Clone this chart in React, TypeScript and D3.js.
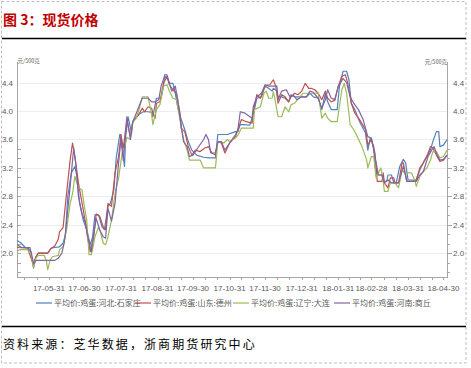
import React, { useEffect, useRef } from 'react'
import * as d3 from 'd3'

// 鸡蛋现货平均价 (元/500克), dates as yy-mm-dd
const seriesNames = ['平均价:鸡蛋:河北:石家庄', '平均价:鸡蛋:山东:德州', '平均价:鸡蛋:辽宁:大连', '平均价:鸡蛋:河南:商丘']
const seriesColors = ['#4F81BD', '#C0504D', '#9BBB59', '#8064A2']

const hebei: [string, number][] = [
  ['17-05-04', 2.18], ['17-05-07', 2.15], ['17-05-11', 2.08], ['17-05-15', 2.08], ['17-05-18', 1.79], ['17-05-20', 1.95],
  ['17-05-22', 2.0], ['17-05-30', 2.0], ['17-06-02', 2.07], ['17-06-05', 2.08], ['17-06-09', 2.09], ['17-06-12', 2.14],
  ['17-06-14', 2.26], ['17-06-16', 2.8], ['17-06-19', 3.13], ['17-06-22', 3.22], ['17-06-24', 3.06], ['17-06-26', 2.7],
  ['17-06-29', 2.47], ['17-07-02', 2.33], ['17-07-05', 2.12], ['17-07-07', 2.23], ['17-07-09', 2.54], ['17-07-12', 2.54],
  ['17-07-15', 2.37], ['17-07-17', 2.33], ['17-07-20', 2.66], ['17-07-22', 2.7], ['17-07-25', 2.89], ['17-07-27', 3.34],
  ['17-07-30', 3.67], ['17-07-31', 3.67], ['17-08-03', 3.22], ['17-08-04', 3.64], ['17-08-06', 3.92], ['17-08-09', 3.69],
  ['17-08-10', 3.85], ['17-08-15', 3.95], ['17-08-19', 3.99], ['17-08-23', 3.99], ['17-08-26', 3.98], ['17-08-27', 3.92],
  ['17-08-30', 4.18], ['17-09-03', 4.18], ['17-09-05', 4.35], ['17-09-06', 4.51], ['17-09-08', 4.51], ['17-09-10', 4.39],
  ['17-09-13', 4.39], ['17-09-15', 4.25], ['17-09-17', 4.06], ['17-09-20', 3.88], ['17-09-23', 3.74], ['17-09-26', 3.57],
  ['17-09-29', 3.45], ['17-10-03', 3.38], ['17-10-09', 3.35], ['17-10-14', 3.34], ['17-10-19', 3.34], ['17-10-21', 3.67],
  ['17-10-29', 3.67], ['17-11-05', 3.71], ['17-11-07', 3.71], ['17-11-09', 3.81], ['17-11-12', 3.81], ['17-11-17', 3.8],
  ['17-11-20', 3.95], ['17-11-23', 4.18], ['17-11-27', 4.2], ['17-11-30', 4.35], ['17-12-03', 4.32], ['17-12-06', 4.28],
  ['17-12-07', 4.32], ['17-12-10', 4.28], ['17-12-11', 4.2], ['17-12-14', 4.2], ['17-12-17', 4.18], ['17-12-20', 4.13],
  ['17-12-22', 4.23], ['17-12-25', 4.2], ['17-12-30', 4.2], ['18-01-04', 4.2], ['18-01-07', 4.25], ['18-01-10', 4.2],
  ['18-01-14', 4.18], ['18-01-17', 4.02], ['18-01-20', 4.25], ['18-01-22', 4.13], ['18-01-25', 4.02], ['18-01-30', 4.02],
  ['18-02-01', 4.35], ['18-02-04', 4.56], ['18-02-07', 4.56], ['18-02-09', 4.44], ['18-02-11', 4.11], ['18-02-14', 4.02],
  ['18-02-18', 3.85], ['18-02-23', 3.69], ['18-02-25', 3.45], ['18-02-27', 3.62], ['18-03-02', 3.5], ['18-03-03', 3.22],
  ['18-03-06', 3.1], ['18-03-09', 3.1], ['18-03-10', 3.01], ['18-03-13', 3.01], ['18-03-14', 3.1], ['18-03-17', 3.1],
  ['18-03-19', 2.99], ['18-03-21', 2.99], ['18-03-24', 3.22], ['18-03-27', 3.32], ['18-03-29', 3.27], ['18-03-31', 3.03],
  ['18-04-07', 3.03], ['18-04-10', 3.17], ['18-04-14', 3.31], ['18-04-19', 3.45], ['18-04-21', 3.57], ['18-04-24', 3.71],
  ['18-04-26', 3.71], ['18-04-27', 3.5], ['18-04-30', 3.52], ['18-05-03', 3.6],
]

const shandong: [string, number][] = [
  ['17-05-04', 2.08], ['17-05-13', 2.07], ['17-05-17', 1.88], ['17-05-18', 1.86], ['17-05-20', 1.95], ['17-05-22', 2.0],
  ['17-05-30', 2.0], ['17-06-02', 2.07], ['17-06-05', 2.1], ['17-06-08', 2.2], ['17-06-09', 2.3], ['17-06-12', 2.36],
  ['17-06-15', 2.85], ['17-06-18', 3.31], ['17-06-20', 3.55], ['17-06-22', 3.36], ['17-06-25', 2.99], ['17-06-28', 2.71],
  ['17-07-01', 2.43], ['17-07-03', 2.19], ['17-07-05', 2.02], ['17-07-08', 2.23], ['17-07-10', 2.55], ['17-07-13', 2.52],
  ['17-07-16', 2.37], ['17-07-18', 2.33], ['17-07-20', 2.7], ['17-07-23', 2.66], ['17-07-26', 3.13], ['17-07-29', 3.36],
  ['17-07-31', 3.66], ['17-08-02', 3.48], ['17-08-05', 3.88], ['17-08-08', 3.64], ['17-08-10', 3.85], ['17-08-15', 3.95],
  ['17-08-18', 4.04], ['17-08-20', 3.99], ['17-08-23', 4.06], ['17-08-26', 4.04], ['17-08-27', 3.97], ['17-08-29', 3.9],
  ['17-08-30', 4.11], ['17-09-02', 4.13], ['17-09-05', 4.39], ['17-09-08', 4.49], ['17-09-10', 4.37], ['17-09-13', 4.3],
  ['17-09-16', 4.25], ['17-09-19', 3.97], ['17-09-20', 3.76], ['17-09-23', 3.71], ['17-09-26', 3.5], ['17-09-29', 3.38],
  ['17-10-02', 3.45], ['17-10-06', 3.43], ['17-10-10', 3.48], ['17-10-13', 3.5], ['17-10-16', 3.41], ['17-10-19', 3.38],
  ['17-10-21', 3.57], ['17-10-24', 3.55], ['17-10-27', 3.41], ['17-10-31', 3.55], ['17-11-05', 3.64], ['17-11-07', 3.74],
  ['17-11-10', 3.88], ['17-11-14', 3.85], ['17-11-19', 3.83], ['17-11-20', 3.99], ['17-11-23', 4.23], ['17-11-26', 4.18],
  ['17-11-29', 4.32], ['17-12-01', 4.36], ['17-12-04', 4.37], ['17-12-07', 4.44], ['17-12-09', 4.35], ['17-12-11', 4.11],
  ['17-12-14', 4.23], ['17-12-17', 4.2], ['17-12-20', 4.13], ['17-12-22', 4.2], ['17-12-25', 4.25], ['17-12-28', 4.23],
  ['17-12-31', 4.28], ['18-01-03', 4.39], ['18-01-06', 4.32], ['18-01-08', 4.32], ['18-01-11', 4.3], ['18-01-14', 4.25],
  ['18-01-17', 4.16], ['18-01-20', 4.28], ['18-01-22', 4.18], ['18-01-25', 4.13], ['18-01-28', 4.15], ['18-01-31', 4.35],
  ['18-02-03', 4.49], ['18-02-06', 4.51], ['18-02-08', 4.39], ['18-02-11', 4.11], ['18-02-14', 3.97], ['18-02-18', 3.88],
  ['18-02-23', 3.74], ['18-02-25', 3.52], ['18-02-28', 3.6], ['18-03-03', 3.41], ['18-03-05', 3.01], ['18-03-09', 3.01],
  ['18-03-10', 3.13], ['18-03-11', 2.99], ['18-03-14', 2.92], ['18-03-16', 3.06], ['18-03-19', 3.06], ['18-03-20', 2.99],
  ['18-03-23', 2.99], ['18-03-26', 3.27], ['18-03-27', 3.27], ['18-03-30', 3.01], ['18-04-04', 3.01], ['18-04-07', 3.03],
  ['18-04-10', 3.2], ['18-04-13', 3.27], ['18-04-16', 3.36], ['18-04-19', 3.5], ['18-04-21', 3.48], ['18-04-24', 3.38],
  ['18-04-27', 3.29], ['18-04-30', 3.31], ['18-05-03', 3.38],
]

const liaoning: [string, number][] = [
  ['17-05-04', 2.03], ['17-05-07', 2.05], ['17-05-13', 2.05], ['17-05-16', 1.98], ['17-05-18', 1.8], ['17-05-20', 1.93],
  ['17-05-22', 1.97], ['17-05-27', 1.97], ['17-05-29', 1.88], ['17-05-30', 1.77], ['17-06-01', 1.9], ['17-06-03', 1.95],
  ['17-06-08', 1.97], ['17-06-09', 2.05], ['17-06-12', 2.09], ['17-06-15', 2.33], ['17-06-18', 2.7], ['17-06-20', 2.84],
  ['17-06-22', 3.08], ['17-06-25', 2.92], ['17-06-28', 2.89], ['17-06-30', 2.66], ['17-07-02', 2.47], ['17-07-04', 1.98],
  ['17-07-06', 1.98], ['17-07-09', 2.23], ['17-07-12', 2.37], ['17-07-14', 2.28], ['17-07-16', 2.14], ['17-07-18', 2.12],
  ['17-07-20', 2.23], ['17-07-23', 2.47], ['17-07-26', 2.84], ['17-07-29', 3.06], ['17-08-01', 3.41], ['17-08-02', 3.41],
  ['17-08-05', 3.63], ['17-08-08', 3.6], ['17-08-10', 3.84], ['17-08-13', 3.9], ['17-08-16', 4.06], ['17-08-18', 4.2],
  ['17-08-23', 4.2], ['17-08-26', 3.95], ['17-08-27', 3.81], ['17-08-30', 4.02], ['17-09-02', 4.09], ['17-09-05', 4.35],
  ['17-09-08', 4.37], ['17-09-10', 4.28], ['17-09-13', 4.18], ['17-09-16', 4.16], ['17-09-19', 3.88], ['17-09-22', 3.6],
  ['17-09-25', 3.45], ['17-09-27', 3.31], ['17-10-06', 3.31], ['17-10-09', 3.2], ['17-10-19', 3.2], ['17-10-21', 3.57],
  ['17-10-23', 3.57], ['17-10-26', 3.55], ['17-10-29', 3.6], ['17-10-31', 3.57], ['17-11-05', 3.62], ['17-11-07', 3.66],
  ['17-11-10', 3.76], ['17-11-20', 3.76], ['17-11-21', 4.02], ['17-11-26', 4.06], ['17-11-29', 4.25], ['17-12-01', 4.28],
  ['17-12-03', 4.18], ['17-12-06', 4.18], ['17-12-07', 4.27], ['17-12-08', 4.2], ['17-12-11', 3.92], ['17-12-14', 3.92],
  ['17-12-17', 4.06], ['17-12-20', 3.99], ['17-12-22', 4.09], ['17-12-25', 4.11], ['18-01-01', 4.25], ['18-01-14', 4.25],
  ['18-01-17', 3.9], ['18-01-20', 3.97], ['18-01-22', 3.9], ['18-01-25', 3.85], ['18-01-30', 3.85], ['18-02-03', 4.3],
  ['18-02-05', 4.39], ['18-02-07', 4.25], ['18-02-10', 3.81], ['18-02-13', 3.74], ['18-02-16', 3.64], ['18-02-20', 3.5],
  ['18-02-24', 3.31], ['18-02-25', 3.2], ['18-02-28', 3.36], ['18-03-02', 3.36], ['18-03-04', 3.06], ['18-03-08', 3.2],
  ['18-03-10', 3.01], ['18-03-11', 2.87], ['18-03-14', 2.87], ['18-03-16', 2.99], ['18-03-20', 2.99], ['18-03-23', 2.92],
  ['18-03-26', 3.17], ['18-03-28', 3.13], ['18-04-03', 3.13], ['18-04-06', 3.01], ['18-04-07', 2.94], ['18-04-10', 3.08],
  ['18-04-13', 3.15], ['18-04-16', 3.2], ['18-04-19', 3.31], ['18-04-21', 3.43], ['18-04-24', 3.43], ['18-04-27', 3.34],
  ['18-04-30', 3.36], ['18-05-03', 3.45],
]

const henan: [string, number][] = [
  ['17-05-04', 2.12], ['17-05-08', 2.08], ['17-05-13', 2.08], ['17-05-16', 2.02], ['17-05-18', 1.85], ['17-05-20', 1.9],
  ['17-06-05', 1.9], ['17-06-08', 1.93], ['17-06-11', 2.0], ['17-06-13', 2.15], ['17-06-14', 2.28], ['17-06-18', 2.94],
  ['17-06-21', 3.48], ['17-06-23', 3.22], ['17-06-25', 2.8], ['17-06-28', 2.56], ['17-07-01', 2.42], ['17-07-03', 2.23],
  ['17-07-06', 2.02], ['17-07-08', 2.28], ['17-07-10', 2.49], ['17-07-13', 2.33], ['17-07-16', 2.23], ['17-07-18', 2.21],
  ['17-07-20', 2.63], ['17-07-23', 2.45], ['17-07-26', 2.7], ['17-07-29', 3.27], ['17-07-31', 3.6], ['17-08-02', 3.3],
  ['17-08-05', 3.92], ['17-08-08', 3.6], ['17-08-10', 3.85], ['17-08-13', 3.97], ['17-08-18', 4.18], ['17-08-23', 4.18],
  ['17-08-26', 4.13], ['17-08-29', 4.13], ['17-09-01', 4.16], ['17-09-03', 4.35], ['17-09-06', 4.49], ['17-09-09', 4.44],
  ['17-09-12', 4.28], ['17-09-15', 4.35], ['17-09-17', 4.16], ['17-09-20', 3.78], ['17-09-22', 3.57], ['17-09-25', 3.5],
  ['17-09-27', 3.36], ['17-09-30', 3.38], ['17-10-04', 3.48], ['17-10-09', 3.6], ['17-10-11', 3.67], ['17-10-13', 3.6],
  ['17-10-15', 3.41], ['17-10-19', 3.41], ['17-10-21', 3.57], ['17-10-24', 3.57], ['17-10-27', 3.45], ['17-10-31', 3.55],
  ['17-11-05', 3.67], ['17-11-07', 3.74], ['17-11-09', 3.99], ['17-11-13', 3.97], ['17-11-19', 3.9], ['17-11-20', 4.06],
  ['17-11-23', 4.2], ['17-11-27', 4.25], ['17-11-30', 4.37], ['17-12-03', 4.35], ['17-12-07', 4.35], ['17-12-10', 4.35],
  ['17-12-11', 4.16], ['17-12-14', 4.28], ['17-12-18', 4.3], ['17-12-21', 4.2], ['17-12-24', 4.22], ['17-12-27', 4.16],
  ['17-12-31', 4.2], ['18-01-04', 4.2], ['18-01-07', 4.28], ['18-01-10', 4.26], ['18-01-14', 4.18], ['18-01-17', 4.04],
  ['18-01-20', 4.16], ['18-01-22', 4.3], ['18-01-25', 4.18], ['18-01-28', 4.16], ['18-01-31', 4.35], ['18-02-01', 4.37],
  ['18-02-04', 4.46], ['18-02-07', 4.4], ['18-02-10', 4.2], ['18-02-13', 4.11], ['18-02-17', 4.02], ['18-02-21', 3.88],
  ['18-02-25', 3.64], ['18-02-28', 3.62], ['18-03-03', 3.36], ['18-03-06', 3.1], ['18-03-09', 3.1], ['18-03-11', 2.99],
  ['18-03-14', 3.03], ['18-03-17', 2.99], ['18-03-23', 2.99], ['18-03-26', 3.17], ['18-03-27', 3.22], ['18-03-30', 3.01],
  ['18-04-07', 3.01], ['18-04-10', 3.1], ['18-04-13', 3.15], ['18-04-17', 3.36], ['18-04-20', 3.45], ['18-04-22', 3.5],
  ['18-04-24', 3.41], ['18-04-27', 3.31], ['18-04-30', 3.32], ['18-05-03', 3.38],
]

const allSeries = [hebei, shandong, liaoning, henan]
const yTicks = [2.0, 2.4, 2.8, 3.2, 3.6, 4.0, 4.4]
const xTickDates = ['17-05-31', '17-06-30', '17-07-31', '17-08-31', '17-09-30', '17-10-31', '17-11-30', '17-12-31', '18-01-31', '18-02-28', '18-03-31', '18-04-30']
const dateRange = ['17-05-04', '18-05-03']
const unitLabel = '元/500克'

export default function App() {
  const ref = useRef<SVGSVGElement | null>(null)
  useEffect(() => {
    if (!ref.current) return
    const W = 471, H = 368
    const svg = d3.select(ref.current)
    svg.selectAll('*').remove()
    const parse = d3.timeParse('%y-%m-%d')
    const fmt = d3.timeFormat('%y-%m-%d')
    const left = 17, right = 447, top = 62, bottom = 277
    const x = d3.scaleTime().domain(dateRange.map(d => parse(d) as Date)).range([left, right])
    const y = d3.scaleLinear().domain([1.665, 4.69]).range([bottom, top])
    const grey = '#595959', axisCol = '#A6A6A6'
    const cjk = '"Noto Sans CJK SC", "Noto Sans", sans-serif'

    // frame
    svg.append('rect').attr('x', 1.5).attr('y', 1.5).attr('width', 464.5).attr('height', 361.5)
      .attr('fill', '#fff').attr('stroke', '#BFBFBF').attr('stroke-dasharray', '3,2')
    svg.append('text').text('图 3：现货价格').attr('x', 3).attr('y', 25).attr('fill', '#C00000')
      .attr('font-family', cjk).attr('font-weight', 'bold').attr('font-size', 14)
    svg.append('line').attr('x1', 2).attr('x2', 466).attr('y1', 38.5).attr('y2', 38.5).attr('stroke', '#000').attr('stroke-width', 1.3)
    svg.append('line').attr('x1', 2).attr('x2', 466).attr('y1', 326.5).attr('y2', 326.5).attr('stroke', '#000').attr('stroke-width', 1.3)
    svg.append('text').text('资料来源：芝华数据，浙商期货研究中心').attr('x', 3).attr('y', 348.5).attr('fill', '#000')
      .attr('font-family', cjk).attr('font-size', 12).attr('letter-spacing', 2.1)

    // grid
    yTicks.forEach(t => {
      svg.append('line').attr('x1', left).attr('x2', right).attr('y1', Math.round(y(t)) + 0.5).attr('y2', Math.round(y(t)) + 0.5)
        .attr('stroke', '#EDEDED')
    })

    // axes
    svg.append('line').attr('x1', left + 0.5).attr('x2', left + 0.5).attr('y1', top).attr('y2', bottom).attr('stroke', axisCol)
    svg.append('line').attr('x1', right + 0.5).attr('x2', right + 0.5).attr('y1', top).attr('y2', bottom).attr('stroke', axisCol)
    svg.append('line').attr('x1', left).attr('x2', right + 1).attr('y1', bottom + 0.5).attr('y2', bottom + 0.5).attr('stroke', axisCol)
    const step = 0.4 / 3
    const minor = d3.range(-12, 12).map(i => 2.0 + i * step).filter(v => v > y.domain()[0] && v < y.domain()[1])
    minor.forEach(v => {
      const yy = Math.round(y(v)) + 0.5
      const major = yTicks.some(t => Math.abs(t - v) < 1e-6)
      svg.append('line').attr('x1', left + 0.5).attr('x2', left + 4).attr('y1', yy).attr('y2', yy).attr('stroke', axisCol)
      svg.append('line').attr('x1', right).attr('x2', right + (major ? 5 : 3)).attr('y1', yy).attr('y2', yy).attr('stroke', axisCol)
    })
    yTicks.forEach(t => {
      svg.append('text').text(t.toFixed(1)).attr('x', 13).attr('y', y(t) + 3).attr('text-anchor', 'end')
        .attr('font-family', 'Liberation Sans, Arial, sans-serif').attr('font-size', 8).attr('fill', grey)
      svg.append('text').text(t.toFixed(1)).attr('x', 453).attr('y', y(t) + 3)
        .attr('font-family', 'Liberation Sans, Arial, sans-serif').attr('font-size', 8).attr('fill', grey)
    })
    svg.append('text').text(unitLabel).attr('x', 17.5).attr('y', 63).attr('font-family', cjk).attr('font-size', 5.5).attr('fill', grey)
    svg.append('text').text(unitLabel).attr('x', 447).attr('y', 63.5).attr('text-anchor', 'end').attr('font-family', cjk).attr('font-size', 5.5).attr('fill', grey)

    // x ticks: month ends plus two minor ticks between
    const ends = ['17-04-30', ...xTickDates].map(d => parse(d) as Date)
    const tickTimes: number[] = []
    ends.forEach((d, i) => {
      tickTimes.push(+d)
      if (i > 0) {
        const a = +ends[i - 1], b = +d
        tickTimes.push(a + (b - a) / 3, a + (2 * (b - a)) / 3)
      }
    })
    tickTimes.filter(t => x(new Date(t)) >= left && x(new Date(t)) <= right).forEach(t => {
      const xx = Math.round(x(new Date(t))) + 0.5
      svg.append('line').attr('x1', xx).attr('x2', xx).attr('y1', bottom).attr('y2', bottom + 3).attr('stroke', axisCol)
    })
    xTickDates.forEach(s => {
      const d = parse(s) as Date
      svg.append('text').text(fmt(d)).attr('x', x(d)).attr('y', 291).attr('text-anchor', 'middle')
        .attr('font-family', 'Liberation Sans, Arial, sans-serif').attr('font-size', 8).attr('fill', grey)
    })

    // lines
    const line = d3.line<[string, number]>().x(d => x(parse(d[0]) as Date)).y(d => y(d[1]))
    allSeries.forEach((s, i) => {
      svg.append('path').attr('d', line(s) as string).attr('fill', 'none').attr('stroke', seriesColors[i])
        .attr('stroke-width', 1.2).attr('stroke-linejoin', 'round')
    })

    // legend
    const legendX = [36, 135, 233, 334]
    seriesNames.forEach((n, i) => {
      svg.append('line').attr('x1', legendX[i]).attr('x2', legendX[i] + 16).attr('y1', 303).attr('y2', 303)
        .attr('stroke', seriesColors[i]).attr('stroke-width', 1.2)
      svg.append('text').text(n).attr('x', legendX[i] + 18).attr('y', 306).attr('font-family', cjk)
        .attr('font-size', 8).attr('fill', grey)
    })
    svg.attr('width', W).attr('height', H)
  }, [])
  return (
    <div style={{ position: 'absolute', left: 0, top: 0 }}>
      <svg ref={ref} width={471} height={368} style={{ display: 'block' }} />
    </div>
  )
}
